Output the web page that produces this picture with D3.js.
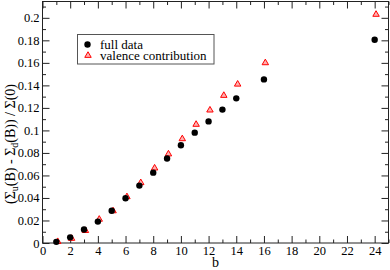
<!DOCTYPE html>
<html><head><meta charset="utf-8">
<script src="https://cdn.jsdelivr.net/npm/d3@7"></script>
<style>body{margin:0;background:#fff}svg{display:block}text{font-family:"Liberation Serif","DejaVu Serif",serif}</style>
</head><body><svg id="c" width="390" height="270"></svg>
<script>
const bFull = [1,2,3,4,5,6,7,8,9,10,11,12,13,14,16,24];
const fullData = [0.001,0.005,0.012,0.019,0.0287,0.0397,0.051,0.0625,0.075,0.0868,0.098,0.108,0.1185,0.1285,0.1453,0.1805];
const bVal = [1.1,2.1,3.1,4.1,5.1,6.1,7.1,8.1,9.1,10.1,11.1,12.1,13.1,14.1,16.1,24.1];
const valence = [0.0012,0.004,0.011,0.021,0.0285,0.041,0.0535,0.0665,0.079,0.0925,0.1053,0.118,0.131,0.141,0.160,0.203];
const xMajor = [0,2,4,6,8,10,12,14,16,18,20,22,24];
const xMinor = [1,3,5,7,9,11,13,15,17,19,21,23,25];
const yMajor = [0,0.02,0.04,0.06,0.08,0.1,0.12,0.14,0.16,0.18,0.2];
const yLabels = ["0","0.02","0.04","0.06","0.08","0.1","0.12","0.14","0.16","0.18","0.2"];
const yMinor = [0.01,0.03,0.05,0.07,0.09,0.11,0.13,0.15,0.17,0.19,0.21];
const legendLabels = ["full data","valence contribution"];

const L=42.5,R=388.5,T=1.5,B=243;
const x=d3.scaleLinear().domain([0,25]).range([L,R]);
const y=d3.scaleLinear().domain([0,0.2145]).range([B,T]);
const svg=d3.select("#c");
const axCol="#222";
const FONT="'Liberation Serif','DejaVu Serif',serif";
function styleAx(g){g.select(".domain").remove();g.selectAll("line").attr("stroke",axCol);g.selectAll("text").style("font-family",FONT).attr("font-size",12.5).attr("fill","#000");}
svg.append("g").attr("transform",`translate(0,${B})`).call(d3.axisBottom(x).tickValues(xMajor).tickSize(-7).tickPadding(3).tickFormat(d3.format("d"))).call(styleAx);
svg.append("g").attr("transform",`translate(0,${B})`).call(d3.axisBottom(x).tickValues(xMinor).tickSize(-3.5).tickFormat("")).call(styleAx);
svg.append("g").attr("transform",`translate(0,${T})`).call(d3.axisTop(x).tickValues(xMajor).tickSize(-7).tickFormat("")).call(styleAx);
svg.append("g").attr("transform",`translate(0,${T})`).call(d3.axisTop(x).tickValues(xMinor).tickSize(-3.5).tickFormat("")).call(styleAx);
svg.append("g").attr("transform",`translate(${L},0)`).call(d3.axisLeft(y).tickValues(yMajor).tickSize(-7).tickPadding(3).tickFormat((d,i)=>yLabels[i])).call(styleAx);
svg.append("g").attr("transform",`translate(${L},0)`).call(d3.axisLeft(y).tickValues(yMinor).tickSize(-3.5).tickFormat("")).call(styleAx);
svg.append("g").attr("transform",`translate(${R},0)`).call(d3.axisRight(y).tickValues(yMajor).tickSize(-7).tickFormat("")).call(styleAx);
svg.append("g").attr("transform",`translate(${R},0)`).call(d3.axisRight(y).tickValues(yMinor).tickSize(-3.5).tickFormat("")).call(styleAx);
svg.append("rect").attr("x",L).attr("y",T).attr("width",R-L).attr("height",B-T).attr("fill","none").attr("stroke",axCol).attr("stroke-width",1);

const tri=d3.symbol().type(d3.symbolTriangle).size(18);
svg.append("g").selectAll("path").data(valence).join("path")
 .attr("d",tri).attr("transform",(d,i)=>`translate(${x(bVal[i])},${y(d)})`)
 .attr("fill","#ffb0b0").attr("stroke","#ff0000").attr("stroke-width",1);
svg.append("g").selectAll("circle").data(fullData).join("circle")
 .attr("cx",(d,i)=>x(bFull[i])).attr("cy",d=>y(d)).attr("r",3.2).attr("fill","#000");

svg.append("rect").attr("x",77.5).attr("y",34.5).attr("width",136.5).attr("height",29.5).attr("fill","#fff").attr("stroke","#555");
svg.append("circle").attr("cx",87.5).attr("cy",44.5).attr("r",3.2).attr("fill","#000");
svg.append("path").attr("d",tri).attr("transform","translate(88,55.5)").attr("fill","#ffb0b0").attr("stroke","#ff0000");
svg.append("text").attr("x",100).attr("y",48.5).style("font-family",FONT).attr("font-size",13).text(legendLabels[0]);
svg.append("text").attr("x",100).attr("y",59.5).style("font-family",FONT).attr("font-size",13).text(legendLabels[1]);

svg.append("text").attr("x",(L+R)/2).attr("y",267).attr("text-anchor","middle").style("font-family",FONT).attr("font-size",14).text("b");
const yl=svg.append("text").attr("transform","translate(15,144) rotate(-90)").attr("text-anchor","middle").style("font-family",FONT).attr("font-size",14);
yl.append("tspan").text("(Σ");
yl.append("tspan").attr("font-size",10).attr("dy",3).text("u");
yl.append("tspan").attr("dy",-3).text("(B) - Σ");
yl.append("tspan").attr("font-size",10).attr("dy",3).text("d");
yl.append("tspan").attr("dy",-3).text("(B)) / Σ(0)");
</script></body></html>
